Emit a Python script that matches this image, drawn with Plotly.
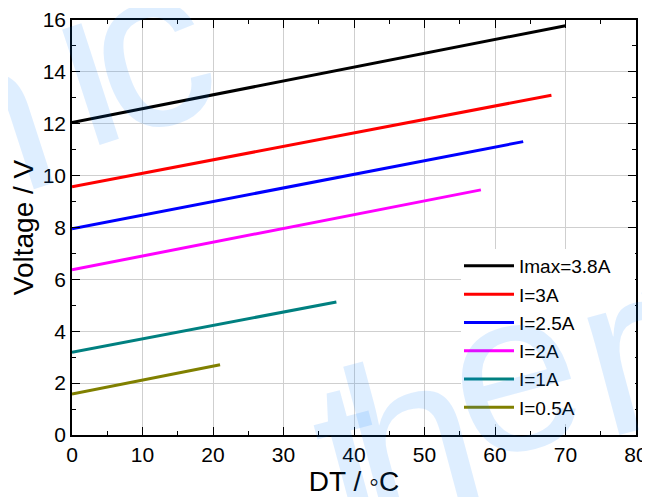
import plotly.graph_objects as go

# Data
series_names = ["Imax=3.8A", "I=3A", "I=2.5A", "I=2A", "I=1A", "I=0.5A"]
series_colors = ["#000000", "#FF0000", "#0000FF", "#FF00FF", "#008080", "#808000"]
dt_start = [0, 0, 0, 0, 0, 0]
dt_end = [70, 68, 64, 58, 37.5, 21]
v_start = [12.05, 9.57, 7.95, 6.37, 3.19, 1.58]
v_end = [15.78, 13.10, 11.31, 9.45, 5.13, 2.71]

x_ticks = [0, 10, 20, 30, 40, 50, 60, 70, 80]
y_ticks = [0, 2, 4, 6, 8, 10, 12, 14, 16]

FONT = "Liberation Sans, Arial, sans-serif"

# the page body has an 8px margin, so the figure is drawn 8px in from the window
OFF = 8
W, H = 650 - OFF, 497 - OFF
L, T = 72 - OFF, 20 - OFF
R = W - (636 - OFF)
B = H - (435 - OFF)
PW, PH = W - L - R, H - T - B


def px(xp):
    return (xp - OFF - L) / PW


def py(yp):
    return (H - B - (yp - OFF)) / PH


fig = go.Figure()
for i, name in enumerate(series_names):
    fig.add_trace(go.Scatter(
        x=[dt_start[i], dt_end[i]],
        y=[v_start[i], v_end[i]],
        mode="lines",
        name=name,
        legendgroup=name,
        line=dict(color=series_colors[i], width=3),
    ))

axis_common = dict(
    showline=True, linecolor="black", linewidth=1.5, mirror="allticks",
    ticks="inside", ticklen=8, tickwidth=1.3, tickcolor="black",
    showgrid=True, gridcolor="#CFCFCF", gridwidth=1,
    zeroline=False, automargin=False,
    tickfont=dict(family=FONT, size=21, color="black"),
)

fig.update_xaxes(
    range=[0, 80], tickvals=x_ticks,
    minor=dict(dtick=5, ticks="inside", ticklen=4, tickcolor="black", showgrid=False),
    title=dict(text="DT / ◦C", font=dict(family=FONT, size=28, color="black"), standoff=6),
    **axis_common,
)
fig.update_yaxes(
    range=[0, 16], tickvals=y_ticks,
    minor=dict(dtick=1, ticks="inside", ticklen=4, tickcolor="black", showgrid=False),
    title=dict(text="Voltage / V", font=dict(family=FONT, size=28, color="black"), standoff=6),
    **axis_common,
)

# white box behind the legend (covers gridlines)
fig.add_shape(type="rect", xref="paper", yref="paper",
              x0=px(461), x1=px(635), y0=py(424), y1=py(249),
              fillcolor="white", line=dict(width=0), layer="above")

# faint watermark, letter by letter
wm_color = "rgba(0,120,255,0.13)"
wm_letters = ["n", "i", "c", "t", "h", "e", "r", "m"]
wm_x = [-18, 84, 148, 352, 412, 513, 620, 730]
wm_y = [122, 66, 48, 458, 438, 370, 352, 312]
wm_angle = [-18, -18, -18, -15, -15, -15, -15, -15]
for ch, xx, yy, ang in zip(wm_letters, wm_x, wm_y, wm_angle):
    fig.add_annotation(text=ch, xref="paper", yref="paper", x=px(xx), y=py(yy),
                       xanchor="center", yanchor="middle",
                       showarrow=False, textangle=ang,
                       font=dict(family=FONT, size=230, color=wm_color))

fig.update_layout(
    width=W, height=H,
    margin=dict(l=L, r=R, t=T, b=B, autoexpand=False),
    paper_bgcolor="white", plot_bgcolor="white",
    font=dict(family=FONT, color="black"),
    showlegend=True,
    legend=dict(
        x=px(459), y=py(247), xanchor="left", yanchor="top",
        bgcolor="rgba(0,0,0,0)", borderwidth=0,
        font=dict(family=FONT, size=19, color="black"),
        tracegroupgap=0.6, itemwidth=50,
    ),
)

fig.write_html("out.html")
